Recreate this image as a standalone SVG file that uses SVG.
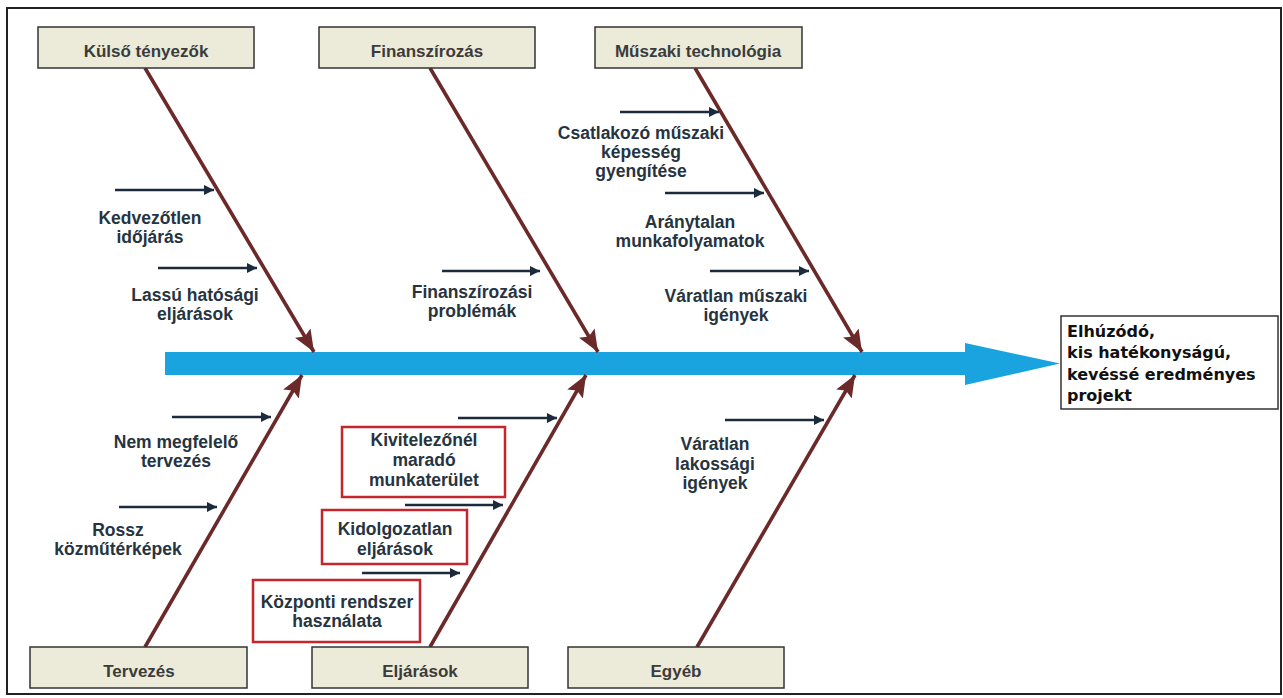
<svg xmlns="http://www.w3.org/2000/svg" width="1283" height="698" viewBox="0 0 1283 698">
  <style>
    .frame { fill: #ffffff; stroke: #222222; stroke-width: 2; }
    .cat rect { fill: #ecebda; stroke: #333333; stroke-width: 1.5; }
    .cat text { font-family: "Liberation Sans", Arial, sans-serif; font-weight: bold; font-size: 17px; fill: #3b3b3b; text-anchor: middle; }
    .lbl { font-family: "Liberation Sans", Arial, sans-serif; font-weight: bold; font-size: 17.5px; fill: #26343f; text-anchor: middle; }
    .redbox { fill: #ffffff; stroke: #c4262e; stroke-width: 2.5; }
    .bone { stroke: #6b2929; stroke-width: 3.6; fill: none; marker-end: url(#boneHead); }
    .cause { stroke: #1c2b3c; stroke-width: 2.6; fill: none; marker-end: url(#causeHead); }
    .effect rect { fill: #ffffff; stroke: #333333; stroke-width: 1.5; }
    .effect text { font-family: "DejaVu Sans", Verdana, sans-serif; font-weight: bold; font-size: 16px; fill: #111111; }
  </style>
  <defs>
    <marker id="boneHead" markerUnits="userSpaceOnUse" markerWidth="24" markerHeight="20" refX="22" refY="9" orient="auto">
      <path d="M0,0 L22,9 L0,18 L4,9 z" fill="#6b2929"/>
    </marker>
    <marker id="causeHead" markerUnits="userSpaceOnUse" markerWidth="12" markerHeight="12" refX="10" refY="5" orient="auto">
      <path d="M0,0 L10,5 L0,10 z" fill="#1c2b3c"/>
    </marker>
  </defs>

  <!-- outer frame -->
  <rect class="frame" x="7" y="8" width="1274" height="686"/>

  <!-- spine -->
  <g id="spine">
    <path d="M165,352 L965,352 L965,343 L1060,363.5 L965,385 L965,375 L165,375 z" fill="#19a3df"/>
  </g>

  <!-- connectors: bones and cause arrows -->
  <g id="connectors">
    <line class="bone" x1="145" y1="68" x2="314" y2="352"/>
    <line class="bone" x1="430" y1="68" x2="598" y2="352"/>
    <line class="bone" x1="695" y1="68" x2="862" y2="352"/>
    <line class="bone" x1="145" y1="647" x2="302" y2="375"/>
    <line class="bone" x1="430" y1="647" x2="586" y2="375"/>
    <line class="bone" x1="697" y1="647" x2="855" y2="375"/>

    <line class="cause" x1="115" y1="190" x2="214" y2="190"/>
    <line class="cause" x1="158" y1="268" x2="257" y2="268"/>
    <line class="cause" x1="442" y1="271" x2="540" y2="271"/>
    <line class="cause" x1="620" y1="112" x2="719" y2="112"/>
    <line class="cause" x1="665" y1="193" x2="764" y2="193"/>
    <line class="cause" x1="710" y1="271" x2="809" y2="271"/>
    <line class="cause" x1="172" y1="417" x2="271" y2="417"/>
    <line class="cause" x1="119" y1="507" x2="217" y2="507"/>
    <line class="cause" x1="458" y1="418" x2="557" y2="418"/>
    <line class="cause" x1="405" y1="505" x2="503" y2="505"/>
    <line class="cause" x1="362" y1="573" x2="460" y2="573"/>
    <line class="cause" x1="725" y1="420" x2="824" y2="420"/>
  </g>

  <!-- category boxes -->
  <g id="cat-kulso" class="cat">
    <rect x="38" y="27" width="216" height="41"/>
    <text x="146" y="57">Külső tényezők</text>
  </g>
  <g id="cat-finansz" class="cat">
    <rect x="319" y="27" width="216" height="41"/>
    <text x="427" y="57">Finanszírozás</text>
  </g>
  <g id="cat-muszaki" class="cat">
    <rect x="595" y="27" width="207" height="41"/>
    <text x="698" y="57">Műszaki technológia</text>
  </g>
  <g id="cat-tervezes" class="cat">
    <rect x="30" y="647" width="217" height="41"/>
    <text x="139" y="677">Tervezés</text>
  </g>
  <g id="cat-eljarasok" class="cat">
    <rect x="312" y="647" width="216" height="41"/>
    <text x="420" y="677">Eljárások</text>
  </g>
  <g id="cat-egyeb" class="cat">
    <rect x="568" y="647" width="216" height="41"/>
    <text x="676" y="677">Egyéb</text>
  </g>

  <!-- cause labels -->
  <g id="c-idojaras">
    <text class="lbl" x="150" y="224">Kedvezőtlen</text>
    <text class="lbl" x="150" y="243">időjárás</text>
  </g>
  <g id="c-hatosagi">
    <text class="lbl" x="195" y="301">Lassú hatósági</text>
    <text class="lbl" x="195" y="320">eljárások</text>
  </g>
  <g id="c-finansz">
    <text class="lbl" x="472" y="298">Finanszírozási</text>
    <text class="lbl" x="472" y="317">problémák</text>
  </g>
  <g id="c-csatlakozo">
    <text class="lbl" x="641" y="139">Csatlakozó műszaki</text>
    <text class="lbl" x="641" y="158">képesség</text>
    <text class="lbl" x="641" y="177">gyengítése</text>
  </g>
  <g id="c-aranytalan">
    <text class="lbl" x="690" y="228">Aránytalan</text>
    <text class="lbl" x="690" y="247">munkafolyamatok</text>
  </g>
  <g id="c-varatlan-m">
    <text class="lbl" x="736" y="302">Váratlan műszaki</text>
    <text class="lbl" x="736" y="321">igények</text>
  </g>
  <g id="c-tervezes">
    <text class="lbl" x="176" y="448">Nem megfelelő</text>
    <text class="lbl" x="176" y="467">tervezés</text>
  </g>
  <g id="c-kozmu">
    <text class="lbl" x="118" y="536">Rossz</text>
    <text class="lbl" x="118" y="555">közműtérképek</text>
  </g>
  <g id="c-kivitelezo">
    <rect class="redbox" x="342" y="427" width="163" height="70"/>
    <text class="lbl" x="424" y="446">Kivitelezőnél</text>
    <text class="lbl" x="424" y="466">maradó</text>
    <text class="lbl" x="424" y="486">munkaterület</text>
  </g>
  <g id="c-kidolgozatlan">
    <rect class="redbox" x="322" y="510" width="145" height="54"/>
    <text class="lbl" x="395" y="535">Kidolgozatlan</text>
    <text class="lbl" x="395" y="555">eljárások</text>
  </g>
  <g id="c-kozponti">
    <rect class="redbox" x="253" y="580" width="167" height="62"/>
    <text class="lbl" x="337" y="608">Központi rendszer</text>
    <text class="lbl" x="337" y="627">használata</text>
  </g>
  <g id="c-lakossagi">
    <text class="lbl" x="715" y="450">Váratlan</text>
    <text class="lbl" x="715" y="470">lakossági</text>
    <text class="lbl" x="715" y="489">igények</text>
  </g>

  <!-- effect box -->
  <g id="effect" class="effect">
    <rect x="1061" y="316" width="217" height="93"/>
    <text x="1067" y="337">Elhúzódó,</text>
    <text x="1067" y="358">kis hatékonyságú,</text>
    <text x="1067" y="380">kevéssé eredményes</text>
    <text x="1067" y="401">projekt</text>
  </g>
</svg>
